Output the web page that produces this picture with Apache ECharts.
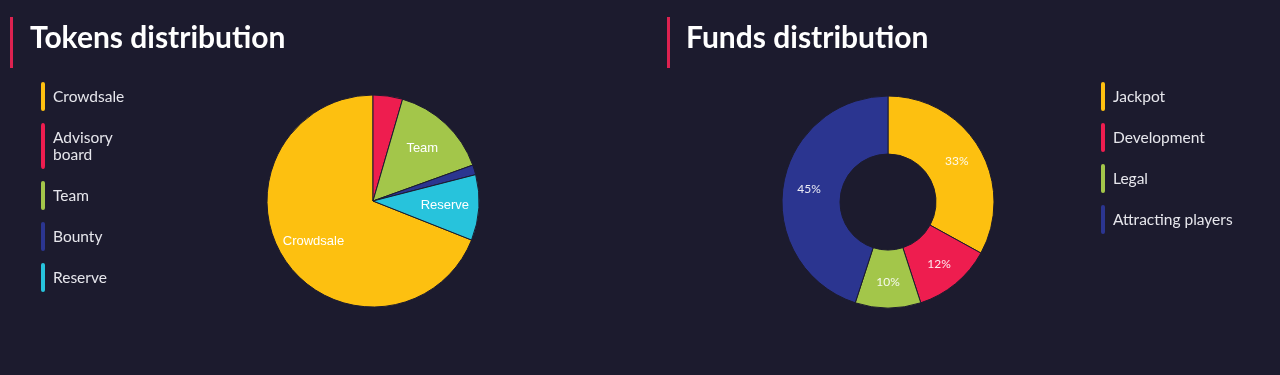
<!DOCTYPE html>
<html>
<head>
<meta charset="utf-8">
<script src="https://cdn.jsdelivr.net/npm/echarts@6/dist/echarts.min.js"></script>
<style>
html,body{margin:0;padding:0;background:#1c1b2e;}
#c{width:1280px;height:375px;}
</style>
</head>
<body>
<div id="c"></div>
<script>
// ---- data ----
const tokenNames = ['Crowdsale', 'Advisory board', 'Team', 'Bounty', 'Reserve'];
const tokenValues = [69, 4.5, 15, 1.5, 10];
const tokenColors = ['#fdc010', '#ee1d4f', '#a3c64a', '#2b3590', '#27c3dc'];

const fundNames = ['Jackpot', 'Development', 'Legal', 'Attracting players'];
const fundValues = [33, 12, 10, 45];
const fundColors = ['#fdc010', '#ee1d4f', '#a3c64a', '#2b3590'];

const titles = ['Tokens distribution', 'Funds distribution'];

// ---- build ----
const tokenData = tokenNames.map((n, i) => ({ name: n, value: tokenValues[i], itemStyle: { color: tokenColors[i] } }));
const fundData = fundNames.map((n, i) => ({ name: n, value: fundValues[i], itemStyle: { color: fundColors[i] } }));
const tokenTotal = tokenValues.reduce((a, b) => a + b, 0);
const tokenStart = 90 + 360 * tokenValues[0] / tokenTotal;

const capsule = 'path://M0,2 A2,2 0 0 1 4,2 L4,27 A2,2 0 0 1 0,27 Z';
const legendBase = {
  orient: 'vertical',
  icon: capsule,
  symbolKeepAspect: false,
  itemWidth: 4,
  itemHeight: 29,
  itemGap: 12,
  padding: 0,
  selectedMode: false,
  itemStyle: { borderWidth: 0 },
  textStyle: { color: '#e6e6ec', fontFamily: 'Lato', fontSize: 15.5, lineHeight: 17, padding: [6, 0, 6, 3] },
  formatter: n => n.replace(' ', '\n')
};
// token legend: two-line items get a taller marker
const tokenLegends = [];
let y = 82;
let group = [];
tokenNames.forEach((n, i) => {
  const twoLine = n.indexOf(' ') >= 0;
  if (twoLine) {
    if (group.length) { tokenLegends.push(Object.assign({}, legendBase, { left: 41, top: y, data: group })); y += group.length * 41; group = []; }
    tokenLegends.push(Object.assign({}, legendBase, { left: 41, top: y, data: [n], itemHeight: 46 }));
    y += 58;
  } else {
    group.push(n);
  }
});
if (group.length) tokenLegends.push(Object.assign({}, legendBase, { left: 41, top: y, data: group }));

const titleStyle = { color: '#ffffff', fontFamily: 'Lato', fontWeight: 'bold', fontSize: 30 };

const chart = echarts.init(document.getElementById('c'), null, { renderer: 'canvas' });
chart.setOption({
  backgroundColor: '#1c1b2e',
  animation: false,
  title: [
    { text: titles[0], left: 25, top: 18, textStyle: titleStyle },
    { text: titles[1], left: 681, top: 18, textStyle: titleStyle }
  ],
  graphic: [
    { type: 'rect', left: 10, top: 17, shape: { width: 3, height: 51 }, style: { fill: '#dc2250' } },
    { type: 'rect', left: 667, top: 17, shape: { width: 3, height: 51 }, style: { fill: '#dc2250' } }
  ],
  legend: tokenLegends.concat([
    Object.assign({}, legendBase, { left: 1101, top: 82, data: fundNames, formatter: n => n })
  ]),
  series: [
    {
      type: 'pie', center: [373, 201], radius: [0, 106], startAngle: tokenStart, clockwise: true,
      data: tokenData, label: { show: false }, labelLine: { show: false },
      itemStyle: { borderColor: '#1c1b2e', borderWidth: 1 }, emphasis: { disabled: true }, silent: true
    },
    {
      type: 'pie', center: [373, 201], radius: [32, 106], startAngle: tokenStart, clockwise: true,
      data: tokenNames.map((n, i) => ({ name: n, value: tokenValues[i] })),
      itemStyle: { color: 'rgba(0,0,0,0)' }, legendHoverLink: false, silent: true,
      label: { show: true, position: 'inside', color: '#ffffff', fontFamily: 'Liberation Sans', fontSize: 13,
        formatter: p => (p.percent < 5 ? '' : p.name) },
      labelLine: { show: false }, emphasis: { disabled: true }
    },
    {
      type: 'pie', center: [888, 202], radius: [48, 106], startAngle: 90, clockwise: true,
      data: fundData, silent: true,
      itemStyle: { borderColor: '#1c1b2e', borderWidth: 1 },
      label: { show: true, position: 'inside', color: 'rgba(255,255,255,0.9)', fontFamily: 'Lato', fontSize: 12, formatter: '{d}%' },
      labelLine: { show: false }, emphasis: { disabled: true }
    }
  ]
});
</script>
</body>
</html>
